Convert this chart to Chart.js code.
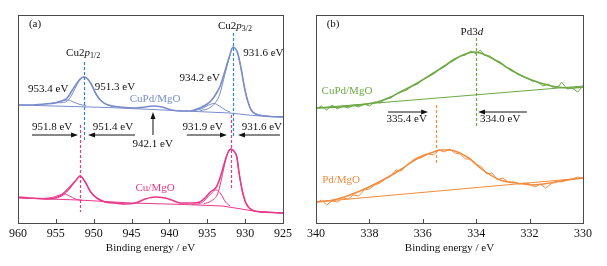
<!DOCTYPE html>
<html>
<head>
<meta charset="utf-8">
<script src="https://cdn.jsdelivr.net/npm/chart.js@4.4.0/dist/chart.umd.min.js"></script>
<style>
body { margin: 0; background: #fff; }
#wrap { position: relative; width: 607px; height: 266px; }
canvas { position: absolute; top: 0; }
</style>
</head>
<body>
<div id="wrap">
<canvas id="chartA" width="300" height="266" style="left:0"></canvas>
<canvas id="chartB" width="307" height="266" style="left:300px"></canvas>
</div>
<script>
"use strict";

// Panel (a): Cu 2p, [binding energy eV, intensity a.u.]
const cuPdFit = [[960,118],[958.4,118],[956.4,119],[955.1,120],[954.2,122],[953.5,125],[952.9,132],[952.3,139],[951.8,144],[951.3,146],[950.8,144],[950.2,137],[949.7,129],[949,122],[948.1,118],[946.5,116],[944.5,115],[943.2,116],[942.1,117],[941,116],[939.7,113],[938.6,112],[937.3,112],[936,115],[935,119],[934.2,125],[933.7,131],[933.3,137],[932.7,151],[932.1,166],[931.6,176],[931,170],[930.5,153],[930.1,136],[929.7,123],[929.2,113],[928.6,109],[927.4,107],[925,106]];
const cuPdBase = [[960,118],[948,115.5],[938,112],[932,110],[929,107.5],[925,106]];
const cuPdPeak1 = [[936,112],[934.5,116],[933.7,123],[933.3,130],[932.7,148],[932.1,165],[931.6,176],[931,170],[930.5,153],[930.1,136],[929.7,123],[929.2,113],[928.6,109],[927.4,107],[925,106]];
const cuPdPeak2 = [[937,112],[935.8,114],[934.8,118],[934.1,119.5],[933.4,117],[932.6,113],[932,111]];
const cuPdPeak3 = [[954.5,120],[953.5,122],[952.9,128],[952.3,137],[951.8,143],[951.3,146],[950.8,144],[950.2,137],[949.7,129],[949,122],[948.1,118],[946.5,116]];
const cuPdPeak4 = [[956.5,119],[955,120.5],[954.1,122.5],[953.4,123],[952.7,121],[951.8,118.5],[951,117.5]];

const cuFit = [[960,26],[958.4,25],[956,24],[954.7,26],[953.8,31],[952.9,38],[952.3,43],[951.8,47],[951.2,42],[950.4,31],[949.6,25],[948.5,21],[947.2,20],[945.9,19],[944.5,20],[943.2,24],[941.9,26],[940.6,25],[939.7,23],[938.6,20],[937,20],[936,21],[935.3,25],[934.6,31],[933.8,36],[933.4,43],[933,53],[932.4,68],[931.9,74],[931.5,72],[931.1,66],[930.8,50],[930.4,33],[929.9,20],[929.1,13],[927.6,11],[925,10]];
const cuBase = [[960,25],[952,23],[945,20],[938,18.5],[933,17],[930.5,14],[928.5,11.5],[925,10]];
const cuPeak1 = [[935.5,19],[934.5,22],[933.7,28],[933.3,38],[932.9,52],[932.4,68],[931.9,74],[931.5,72],[931.1,66],[930.8,50],[930.4,33],[929.9,20],[929.1,13],[927.6,11],[925,10]];
const cuPeak2 = [[937,18.5],[935.8,20],[934.8,27],[933.8,33],[933.2,29],[932.6,21],[932,17]];
const cuPeak3 = [[955,25],[954,28],[953.2,34],[952.5,41],[951.8,47],[951.2,42],[950.4,31],[949.6,25],[948.5,21],[947.2,20]];
const cuPeak4 = [[957,24.5],[955.5,25.5],[954.5,28],[953.9,29],[953.2,27],[952.4,24],[951.5,22.5]];

// Panel (b): Pd 3d
const pdCuFit = [[340,115],[339.1,116],[338.35,118],[337.7,121],[337.2,126],[336.85,131],[336.2,140],[335.6,150],[335.2,157],[334.8,164],[334.4,169],[334.1,171],[333.85,170],[333.5,166],[333.1,160],[332.7,153],[332.2,146],[331.6,140],[330.97,136],[330.5,135],[330,136]];
const pdCuRaw = [[340,114],[339.8,117],[339.6,113],[339.4,118],[339.2,114],[339,117],[338.8,115],[338.6,118],[338.4,116],[338.2,119],[338,117],[337.8,121],[337.6,120],[337.4,124],[337.2,125],[337,129],[336.8,131],[336.6,133],[336.4,137],[336.2,139],[336,143],[335.8,146],[335.6,149],[335.4,153],[335.2,156],[335,160],[334.8,163],[334.6,167],[334.4,168],[334.2,172],[334,169],[333.85,173],[333.7,168],[333.5,167],[333.3,163],[333.1,161],[332.9,156],[332.7,154],[332.5,150],[332.3,147],[332.1,145],[331.9,142],[331.7,141],[331.5,137],[331.3,139],[331.1,135],[330.9,137],[330.8,141],[330.6,134],[330.4,135],[330.2,131],[330,137]];
const pdCuBase = [[340,115],[330,137]];

const pdFit = [[340,21],[339.36,23],[338.73,28],[338.1,35],[337.5,43],[336.85,53],[336.2,65],[335.6,71],[335.35,73],[334.98,73],[334.34,66],[333.75,53],[333.1,43],[332.5,40],[331.9,38],[331.24,40],[330.6,43],[330,45]];
const pdRaw = [[340,20],[339.8,23],[339.6,18],[339.4,22],[339.2,21],[339,25],[338.8,24],[338.6,28],[338.4,27],[338.2,33],[338,34],[337.8,38],[337.6,40],[337.4,44],[337.2,47],[337,53],[336.8,52],[336.6,58],[336.4,61],[336.2,64],[336,66],[335.8,69],[335.6,68],[335.4,73],[335.2,71],[335,74],[334.8,70],[334.6,69],[334.4,64],[334.2,64],[334,59],[333.8,56],[333.6,49],[333.4,50],[333.2,43],[333,45],[332.8,41],[332.6,41],[332.4,39],[332.2,40],[332,39],[331.8,36],[331.6,39],[331.4,35],[331.2,39],[331,42],[330.8,41],[330.6,43],[330.4,44],[330.2,46],[330,45]];
const pdBase = [[340,21],[330,45]];

const BLUE = "#7a8ccb", BLUE_DASH = "#2e86d1", PINK = "#e8398a", GREEN = "#6ea842", ORANGE = "#f28c3f";
const SERIF = "'Liberation Serif', 'DejaVu Serif', serif";

function line(points, color, width, smooth) {
	return {
		data: points.map(function (p) { return { x: p[0], y: p[1] }; }),
		borderColor: color,
		borderWidth: width,
		pointRadius: 0,
		fill: false,
		tension: smooth ? 0.4 : 0,
		cubicInterpolationMode: smooth ? "monotone" : "default",
	};
}

// draws one text, possibly with italic / subscript parts
function drawRich(ctx, parts, cx, cy, color) {
	const fontOf = function (p) {
		return (p.it ? "italic " : "") + (p.sub ? "8px " : "11px ") + SERIF;
	};
	let w = 0;
	parts.forEach(function (p) { ctx.font = fontOf(p); w += ctx.measureText(p.t).width; });
	let x = cx - w / 2;
	ctx.fillStyle = color;
	ctx.textBaseline = "middle";
	ctx.textAlign = "left";
	parts.forEach(function (p) {
		ctx.font = fontOf(p);
		ctx.fillText(p.t, x, cy + (p.sub ? 3 : 0));
		x += ctx.measureText(p.t).width;
	});
}

function notesPlugin(cfg) {
	return {
		id: "notes",
		afterDatasetsDraw(chart) {
			const ctx = chart.ctx;
			const a = chart.chartArea;
			const sx = chart.scales.x, sy = chart.scales.y;
			ctx.save();
			ctx.strokeStyle = "#4a4a4a";
			ctx.lineWidth = 1;
			ctx.strokeRect(Math.round(a.left) + 0.5, Math.round(a.top) + 0.5, Math.round(a.right - a.left), Math.round(a.bottom - a.top));
			sx.ticks.forEach(function (t) {
				const px = Math.round(sx.getPixelForValue(t.value)) + 0.5;
				ctx.beginPath();
				ctx.moveTo(px, a.bottom);
				ctx.lineTo(px, a.bottom - 4);
				ctx.stroke();
			});

			// dashed guides
			cfg.vlines.forEach(function (v) {
				const px = Math.round(sx.getPixelForValue(v.e)) + 0.5;
				ctx.strokeStyle = v.c;
				ctx.lineWidth = 1.2;
				ctx.setLineDash([3, 2]);
				ctx.beginPath();
				ctx.moveTo(px, sy.getPixelForValue(v.i1));
				ctx.lineTo(px, sy.getPixelForValue(v.i2));
				ctx.stroke();
			});
			ctx.setLineDash([]);

			// arrows, head at the "to" end
			cfg.arrows.forEach(function (ar) {
				const x1 = sx.getPixelForValue(ar.from[0]), y1 = sy.getPixelForValue(ar.from[1]);
				const x2 = sx.getPixelForValue(ar.to[0]), y2 = sy.getPixelForValue(ar.to[1]);
				const ang = Math.atan2(y2 - y1, x2 - x1);
				ctx.strokeStyle = "#111";
				ctx.fillStyle = "#111";
				ctx.lineWidth = 1;
				ctx.beginPath();
				ctx.moveTo(x1, y1);
				ctx.lineTo(x2 - 5 * Math.cos(ang), y2 - 5 * Math.sin(ang));
				ctx.stroke();
				ctx.beginPath();
				ctx.moveTo(x2, y2);
				ctx.lineTo(x2 - 7 * Math.cos(ang) + 2.5 * Math.sin(ang), y2 - 7 * Math.sin(ang) - 2.5 * Math.cos(ang));
				ctx.lineTo(x2 - 7 * Math.cos(ang) - 2.5 * Math.sin(ang), y2 - 7 * Math.sin(ang) + 2.5 * Math.cos(ang));
				ctx.closePath();
				ctx.fill();
			});

			cfg.texts.forEach(function (t) {
				drawRich(ctx, t.parts, sx.getPixelForValue(t.e), sy.getPixelForValue(t.i), t.c || "#111");
			});
			ctx.restore();
		},
	};
}

function makePanel(id, datasets, xMin, xMax, step, pad, notes) {
	new Chart(document.getElementById(id), {
		type: "line",
		data: { datasets: datasets },
		options: {
			responsive: false,
			animation: false,
			layout: { padding: pad },
			plugins: { legend: { display: false }, tooltip: { enabled: false } },
			scales: {
				x: {
					type: "linear",
					reverse: true,
					min: xMin,
					max: xMax,
					ticks: { stepSize: step, padding: 4, color: "#111", font: { family: SERIF, size: 12 } },
					grid: { display: false, drawTicks: false },
					border: { display: false },
					title: { display: true, text: "Binding energy / eV", color: "#111", font: { family: SERIF, size: 11 }, padding: { top: 0, bottom: 11 } },
					afterFit: function (scale) { scale.height = 43; },
				},
				y: { display: false, min: 0, max: 208 },
			},
		},
		plugins: [notesPlugin(notes)],
	});
}

const txt = function (s) { return [{ t: s }]; };

makePanel("chartA", [
	line(cuPdBase, BLUE, 1, false),
	line(cuPdPeak4, BLUE, 1, true),
	line(cuPdPeak3, BLUE, 1, true),
	line(cuPdPeak2, BLUE, 1, true),
	line(cuPdPeak1, BLUE, 1, true),
	line(cuPdFit, BLUE, 1.6, true),
	line(cuBase, PINK, 1, false),
	line(cuPeak4, PINK, 1, true),
	line(cuPeak3, PINK, 1, true),
	line(cuPeak2, PINK, 1, true),
	line(cuPeak1, PINK, 1, true),
	line(cuFit, PINK, 1.6, true),
], 925, 960, 5, { left: 18, right: 17, top: 15, bottom: 0 }, {
	vlines: [
		{ e: 951.3, i1: 161, i2: 83, c: BLUE_DASH },
		{ e: 931.6, i1: 190, i2: 85, c: BLUE_DASH },
		{ e: 951.8, i1: 98, i2: 11, c: PINK },
		{ e: 931.9, i1: 108, i2: 33, c: PINK },
	],
	arrows: [
		{ from: [958.15, 88], to: [952.07, 88] },
		{ from: [944.55, 88], to: [950.75, 88] },
		{ from: [937.7, 88], to: [932.4, 88] },
		{ from: [925.4, 88], to: [930.94, 88] },
		{ from: [942.17, 88], to: [942.17, 111] },
	],
	texts: [
		{ e: 957.75, i: 199, parts: txt("(a)") },
		{ e: 931.34, i: 197, parts: [{ t: "Cu2" }, { t: "p", it: true }, { t: "3/2", sub: true }] },
		{ e: 951.4, i: 170, parts: [{ t: "Cu2" }, { t: "p", it: true }, { t: "1/2", sub: true }] },
		{ e: 927.6, i: 170, parts: txt("931.6 eV") },
		{ e: 936.0, i: 145, parts: txt("934.2 eV") },
		{ e: 956.0, i: 134, parts: txt("953.4 eV") },
		{ e: 947.2, i: 136, parts: txt("951.3 eV") },
		{ e: 941.9, i: 124, parts: txt("CuPd/MgO"), c: BLUE },
		{ e: 955.5, i: 96, parts: txt("951.8 eV") },
		{ e: 947.45, i: 96, parts: txt("951.4 eV") },
		{ e: 942.2, i: 79, parts: txt("942.1 eV") },
		{ e: 935.6, i: 96, parts: txt("931.9 eV") },
		{ e: 927.8, i: 96, parts: txt("931.6 eV") },
		{ e: 941.9, i: 35, parts: txt("Cu/MgO"), c: PINK },
	],
});

makePanel("chartB", [
	line(pdCuBase, GREEN, 1, false),
	line(pdCuRaw, GREEN, 1, false),
	line(pdCuFit, GREEN, 1.5, true),
	line(pdBase, ORANGE, 1, false),
	line(pdRaw, ORANGE, 1, false),
	line(pdFit, ORANGE, 1.5, true),
], 330, 340, 2, { left: 16, right: 24, top: 15, bottom: 0 }, {
	vlines: [
		{ e: 334.0, i1: 185, i2: 96, c: GREEN },
		{ e: 335.5, i1: 118, i2: 60, c: ORANGE },
	],
	arrows: [
		{ from: [337.3, 111], to: [335.8, 111] },
		{ from: [332.1, 111], to: [333.93, 111] },
	],
	texts: [
		{ e: 339.36, i: 199, parts: txt("(b)") },
		{ e: 334.16, i: 191, parts: [{ t: "Pd3" }, { t: "d", it: true }] },
		{ e: 338.84, i: 132, parts: txt("CuPd/MgO"), c: GREEN },
		{ e: 339.06, i: 43, parts: txt("Pd/MgO"), c: ORANGE },
		{ e: 336.6, i: 104, parts: txt("335.4 eV") },
		{ e: 333.1, i: 104, parts: txt("334.0 eV") },
	],
});
</script>
</body>
</html>
